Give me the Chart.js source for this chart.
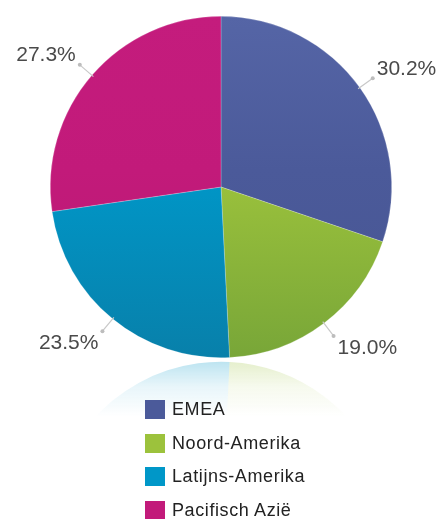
<!DOCTYPE html>
<html>
<head>
<meta charset="utf-8">
<script src="https://cdn.jsdelivr.net/npm/chart.js@4/dist/chart.umd.min.js"></script>
<style>
  html, body { margin: 0; padding: 0; background: #fff; }
  #wrap { position: relative; width: 440px; height: 519px; overflow: hidden; }
  #c { position: absolute; left: 0; top: 0; }
  #legend { position: absolute; left: 145px; top: 399px; font-family: "Liberation Sans", Arial, Helvetica, sans-serif; font-size: 18px; color: #222; }
  .row { position: relative; height: 33.5px; }
  .sw { position: absolute; left: 0; top: 1px; width: 20px; height: 19px; }
  .lb { position: absolute; left: 27px; top: 0px; line-height: 21px; white-space: nowrap; letter-spacing: 0.6px; }
</style>
</head>
<body>
<div id="wrap">
  <canvas id="c" width="440" height="519"></canvas>
  <div id="legend"></div>
</div>
<script>
const categories = ["EMEA", "Noord-Amerika", "Latijns-Amerika", "Pacifisch Azië"];
const values = [30.2, 19.0, 23.5, 27.3];
const valueLabels = ["30.2%", "19.0%", "23.5%", "27.3%"];
const colorsTop = ["#5565a6", "#a7ca3e", "#06a2d2", "#c41c7d"];
const colorsBottom = ["#475592", "#78a638", "#0880aa", "#b81a72"];
const colorsSolid = ["#4b5a9a", "#9cc23c", "#0097c8", "#c21a7a"];

function grad(ctx, chartArea, i) {
  const g = ctx.createLinearGradient(0, chartArea.top, 0, chartArea.bottom);
  g.addColorStop(0, colorsTop[i]);
  g.addColorStop(0.45, colorsSolid[i]);
  g.addColorStop(1, colorsBottom[i]);
  return g;
}

function hexA(hex, a) {
  const n = parseInt(hex.slice(1), 16);
  return `rgba(${(n >> 16) & 255},${(n >> 8) & 255},${n & 255},${a})`;
}

const reflectionPlugin = {
  id: 'reflection',
  beforeDatasetsDraw(chart) {
    const ctx = chart.ctx;
    const meta = chart.getDatasetMeta(0);
    if (!meta.data.length) return;
    const a0 = meta.data[0];
    const cx = a0.x, cy = a0.y, r = a0.outerRadius;
    const bottom = cy + r;
    const gap = 2;
    ctx.save();
    ctx.beginPath();
    ctx.rect(0, bottom + gap, chart.width, 70);
    ctx.clip();
    ctx.translate(0, 2 * bottom + 2 * gap);
    ctx.scale(1, -1);
    meta.data.forEach((arc, i) => {
      const g = ctx.createLinearGradient(0, bottom, 0, bottom - 55);
      g.addColorStop(0, hexA(colorsSolid[i], 0.26));
      g.addColorStop(0.45, hexA(colorsSolid[i], 0.09));
      g.addColorStop(1, hexA(colorsSolid[i], 0));
      ctx.beginPath();
      ctx.moveTo(cx, cy);
      ctx.arc(cx, cy, r, arc.startAngle, arc.endAngle);
      ctx.closePath();
      ctx.fillStyle = g;
      ctx.fill();
    });
    ctx.restore();
  }
};

const labelPlugin = {
  id: 'outLabels',
  afterDatasetsDraw(chart) {
    const ctx = chart.ctx;
    const meta = chart.getDatasetMeta(0);
    ctx.save();
    meta.data.forEach((arc, i) => {
      const mid = (arc.startAngle + arc.endAngle) / 2;
      const r = arc.outerRadius;
      const cos = Math.cos(mid), sin = Math.sin(mid);
      const x1 = arc.x + cos * (r - 2), y1 = arc.y + sin * (r - 2);
      const x2 = arc.x + cos * (r + 16), y2 = arc.y + sin * (r + 16);
      ctx.strokeStyle = '#c8c8c8';
      ctx.lineWidth = 1.2;
      ctx.beginPath();
      ctx.moveTo(x1, y1);
      ctx.lineTo(x2, y2);
      ctx.stroke();
      ctx.fillStyle = '#bdbdbd';
      ctx.beginPath();
      ctx.arc(x2, y2, 2, 0, Math.PI * 2);
      ctx.fill();
      const right = cos >= 0;
      const tx = x2 + (right ? 4 : -4);
      const ty = y2 + sin * 15;
      ctx.font = '21px "Liberation Sans", Arial, Helvetica, sans-serif';
      ctx.fillStyle = '#4a4a4a';
      ctx.textAlign = right ? 'left' : 'right';
      ctx.textBaseline = 'middle';
      ctx.fillText(valueLabels[i], tx, ty);
    });
    ctx.restore();
  }
};

new Chart(document.getElementById('c'), {
  type: 'pie',
  data: {
    labels: categories,
    datasets: [{
      data: values,
      backgroundColor: (c) => {
        const area = c.chart.chartArea;
        if (!area) return colorsSolid[c.dataIndex];
        return grad(c.chart.ctx, area, c.dataIndex);
      },
      borderWidth: 0.6,
      borderColor: 'rgba(255,255,255,0.35)'
    }]
  },
  options: {
    responsive: false,
    animation: false,
    layout: { padding: { top: 16, bottom: 161, left: 50, right: 48 } },
    plugins: {
      legend: { display: false },
      tooltip: { enabled: false }
    }
  },
  plugins: [reflectionPlugin, labelPlugin]
});

const legend = document.getElementById('legend');
categories.forEach((name, i) => {
  const row = document.createElement('div');
  row.className = 'row';
  const sw = document.createElement('div');
  sw.className = 'sw';
  sw.style.background = colorsSolid[i];
  const lb = document.createElement('div');
  lb.className = 'lb';
  lb.textContent = name;
  row.appendChild(sw);
  row.appendChild(lb);
  legend.appendChild(row);
});
</script>
</body>
</html>
